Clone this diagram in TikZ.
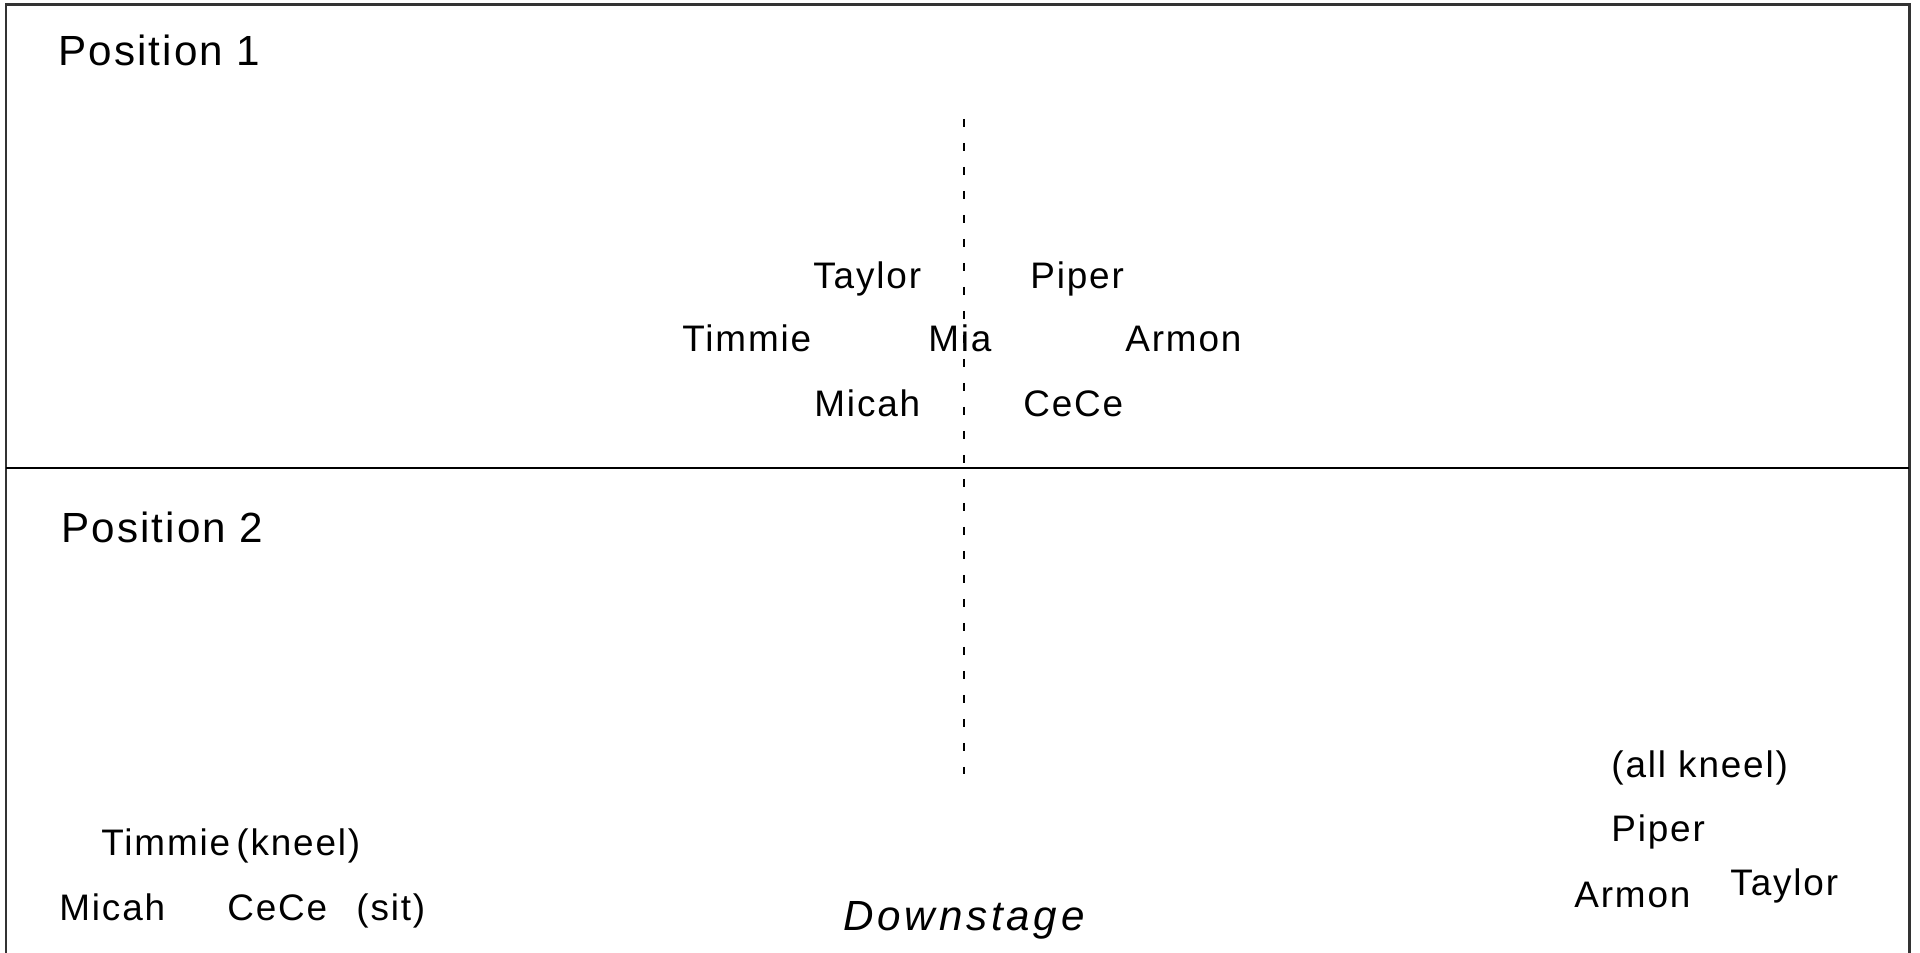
\documentclass[tikz,border=0pt]{standalone}
\usepackage{fontspec}
\setmainfont[LetterSpace=5]{Liberation Sans}

\begin{document}
\begin{tikzpicture}[x=0.1mm, y=-0.1mm, thick,
        main/.style = {anchor=base west, inner sep=0pt, font=\fontsize{10.5}{12}\selectfont},
        head/.style = {main, font=\fontsize{12}{14}\selectfont}]
                \useasboundingbox (0,0) rectangle (1920,953);

                % stage outline
                \draw[line width=0.3mm, black!80] (6,953) -- (6,5) -- (1909,5) -- (1909,953);
                \draw[line width=0.2mm] (6,468) -- (1909,468);
                \coordinate (c1) at (964,119);
                \coordinate (c2) at (964,774);
                \draw[line width=0.27mm, dash pattern=on 0.8mm off 1.6mm] (c1) -- (c2);

                \node[head] (h1) at (57,66) {Position 1};
                \node[head] (h2) at (60,543) {Position 2};

                % position 1
                \node[main] (1) at (812,289) {Taylor};
                \node[main] (2) at (1029,289) {Piper};
                \node[main] (3) at (681,352) {Timmie};
                \node[main] (4) at (927,352) {Mia};
                \node[main] (5) at (1124,352) {Armon};
                \node[main] (6) at (813,417) {Micah};
                \node[main] (7) at (1022,417) {CeCe};

                % position 2
                \node[main] (8) at (100,856) {Timmie};
                \node[main] (9) at (235,856) {(kneel)};
                \node[main] (10) at (58,921) {Micah};
                \node[main] (11) at (226,921) {CeCe};
                \node[main] (12) at (355,921) {(sit)};
                \node[main] (13) at (1610,778) {(all kneel)};
                \node[main] (14) at (1610,842) {Piper};
                \node[main] (15) at (1573,908) {Armon};
                \node[main] (16) at (1729,896) {Taylor};

                \node[head, font=\fontsize{12}{14}\addfontfeature{LetterSpace=9}\selectfont\itshape] (d) at (842,931) {Downstage};
            \end{tikzpicture}
\end{document}
